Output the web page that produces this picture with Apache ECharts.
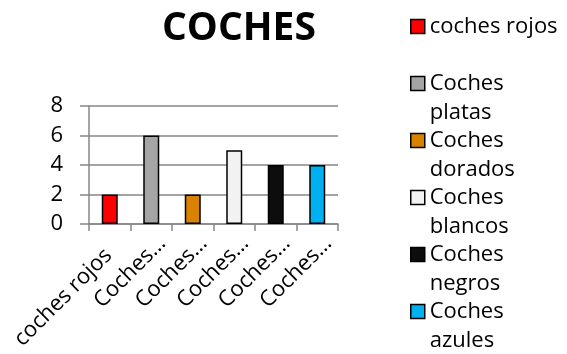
<!DOCTYPE html>
<html>
<head>
<meta charset="utf-8">
<script src="https://cdn.jsdelivr.net/npm/echarts@6/dist/echarts.min.js"></script>
<style>
html,body{margin:0;padding:0;background:#fff;}
#c{width:567px;height:354px;}
</style>
</head>
<body>
<div id="c"></div>
<script>
var title = 'COCHES';
var categories = ['coches rojos', 'Coches platas', 'Coches dorados', 'Coches blancos', 'Coches negros', 'Coches azules'];
var values = [2, 6, 2, 5, 4, 4];
var colors = ['#FF0000', '#A5A5A5', '#D98200', '#F2F2F2', '#0D0D0D', '#00B0F0'];
var yTicks = [0, 2, 4, 6, 8];

var FONT = 'Open Sans';
var axisColor = '#868686';
var NB = '\u00a0';

var series = categories.map(function (name, i) {
  return {
    name: name,
    type: 'bar',
    stack: 'all',
    barWidth: 16,
    itemStyle: { color: colors[i], borderColor: '#000', borderWidth: 1.5 },
    data: categories.map(function (c, j) { return j === i ? values[i] : '-'; })
  };
});

var chart = echarts.init(document.getElementById('c'), null, { renderer: 'canvas' });
chart.setOption({
  animation: false,
  backgroundColor: '#fff',
  textStyle: { fontFamily: FONT },
  title: {
    text: title,
    left: 162,
    top: 9,
    padding: 0,
    textStyle: { fontFamily: FONT, fontSize: 39, fontWeight: 'bold', color: '#000' }
  },
  legend: {
    orient: 'vertical',
    left: 410,
    top: -17,
    height: 700,
    padding: 0,
    itemGap: -30,
    itemWidth: 14,
    itemHeight: 14,
    icon: 'rect',
    data: categories,
    itemStyle: { borderColor: '#000', borderWidth: 1.5 },
    textStyle: { fontFamily: FONT, fontSize: 22, color: '#000', lineHeight: 29 },
    formatter: function (name) {
      if (name === categories[0]) return ' \n' + name + '\n ';
      return ' \n' + name.replace(' ', '\n');
    }
  },
  grid: { left: 89, right: 229, top: 106, bottom: 130, containLabel: false, outerBoundsMode: 'none' },
  xAxis: {
    type: 'category',
    data: categories,
    axisLine: { show: true, lineStyle: { color: axisColor, width: 1.5 } },
    axisTick: { show: true, length: 7, lineStyle: { color: axisColor, width: 1.5 } },
    axisLabel: {
      rotate: 45,
      margin: 5,
      interval: 0,
      fontFamily: FONT,
      fontSize: 22,
      lineHeight: 31,
      color: '#000',
      formatter: function (v, i) {
        return i === 0 ? ' \n' + v + NB + NB + NB : ' \n' + v.split(' ')[0] + '…';
      }
    }
  },
  yAxis: {
    type: 'value',
    min: yTicks[0],
    max: yTicks[yTicks.length - 1],
    interval: 2,
    axisLine: { show: true, lineStyle: { color: axisColor, width: 1.5 } },
    axisTick: { show: true, length: 9, lineStyle: { color: axisColor, width: 1.5 } },
    splitLine: { show: true, lineStyle: { color: axisColor, width: 1.5 } },
    axisLabel: { margin: 26, fontFamily: FONT, fontSize: 22, color: '#000' }
  },
  series: series
});
</script>
</body>
</html>
